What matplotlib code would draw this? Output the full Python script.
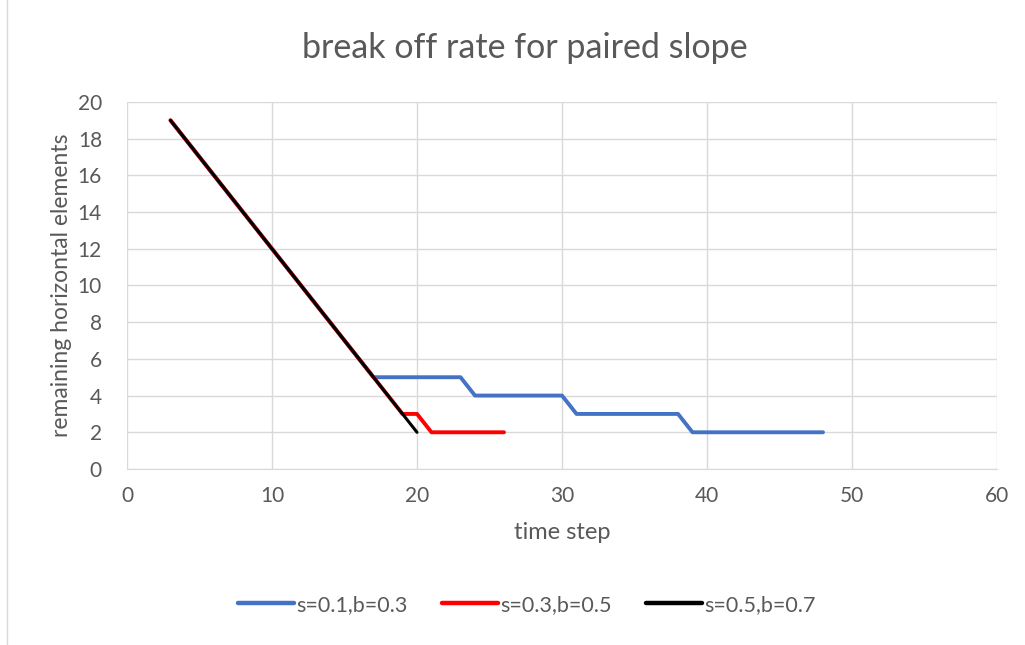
import matplotlib.pyplot as plt
from matplotlib.patches import Rectangle

plt.rcParams['font.family'] = ['Lato', 'DejaVu Sans']

# time steps and remaining horizontal elements per series
x_blue = [3, 4, 5, 6, 7, 8, 9, 10, 11, 12, 13, 14, 15, 16, 17, 18, 19, 20, 21, 22, 23,
          24, 25, 26, 27, 28, 29, 30, 31, 32, 33, 34, 35, 36, 37, 38, 39, 40, 41, 42,
          43, 44, 45, 46, 47, 48]
y_blue = [19, 18, 17, 16, 15, 14, 13, 12, 11, 10, 9, 8, 7, 6, 5, 5, 5, 5, 5, 5, 5,
          4, 4, 4, 4, 4, 4, 4, 3, 3, 3, 3, 3, 3, 3, 3, 2, 2, 2, 2,
          2, 2, 2, 2, 2, 2]

x_red = [3, 4, 5, 6, 7, 8, 9, 10, 11, 12, 13, 14, 15, 16, 17, 18, 19, 20, 21, 22, 23, 24, 25, 26]
y_red = [19, 18, 17, 16, 15, 14, 13, 12, 11, 10, 9, 8, 7, 6, 5, 4, 3, 3, 2, 2, 2, 2, 2, 2]

x_black = [3, 4, 5, 6, 7, 8, 9, 10, 11, 12, 13, 14, 15, 16, 17, 18, 19, 20]
y_black = [19, 18, 17, 16, 15, 14, 13, 12, 11, 10, 9, 8, 7, 6, 5, 4, 3, 2]

labels = ['s=0.1,b=0.3', 's=0.3,b=0.5', 's=0.5,b=0.7']

text_color = '#595959'
grid_color = '#d9d9d9'

fig = plt.figure(figsize=(10.25, 6.45), dpi=100)
ax = fig.add_axes([0.1239, 0.2729, 0.8488, 0.569])

ax.plot(x_blue, y_blue, color='#4472c4', lw=2.8, solid_capstyle='round', label=labels[0])
ax.plot(x_red, y_red, color='#ff0000', lw=2.8, solid_capstyle='round', label=labels[1])
ax.plot(x_black, y_black, color='#000000', lw=2.2, solid_capstyle='round', label=labels[2])

ax.set_xlim(0, 60)
ax.set_ylim(0, 20)
ax.set_xticks(range(0, 61, 10))
ax.set_yticks(range(0, 21, 2))
ax.grid(True, color=grid_color, lw=1.0)
ax.set_axisbelow(True)
for side in ['top', 'right', 'left']:
    ax.spines[side].set_visible(False)
ax.spines['bottom'].set_color(grid_color)
ax.tick_params(length=0, labelsize=15, labelcolor=text_color)
ax.tick_params(axis='y', pad=18)
ax.tick_params(axis='x', pad=12)

ax.set_xlabel('time step', fontsize=17, color=text_color, labelpad=12)
ax.set_ylabel('remaining horizontal elements', fontsize=16.5, color=text_color, labelpad=4)
fig.text(0.512, 0.925, 'break off rate for paired slope', fontsize=24.5, color=text_color,
         ha='center', va='center')

leg = fig.legend(loc='center', bbox_to_anchor=(0.514, 0.062), ncol=3, frameon=False,
                 fontsize=15.5, handlelength=2.6, handletextpad=0.1, columnspacing=1.6)
for t in leg.get_texts():
    t.set_color(text_color)
for h in leg.legend_handles:
    h.set_linewidth(3.2)

fig.patches.append(Rectangle((0.007, -0.01), 1.2, 1.2, transform=fig.transFigure,
                             fill=False, edgecolor='#d9d9d9', lw=1.0))

fig.savefig('out.png', dpi=100)
